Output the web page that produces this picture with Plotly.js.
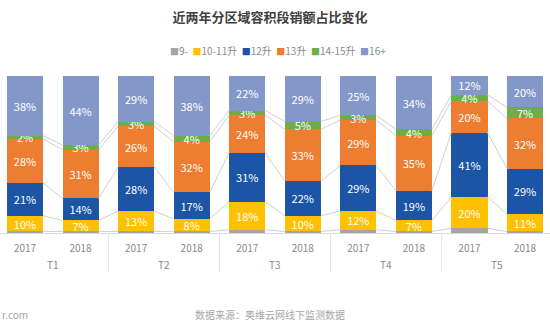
<!DOCTYPE html>
<html>
<head>
<meta charset="utf-8">
<script src="https://cdn.plot.ly/plotly-3.0.1.min.js"></script>
<style>html,body{margin:0;padding:0;background:#fff;}#chart{width:550px;height:326px;}</style>
</head>
<body>
<div id="chart"></div>
<script>
const regions = ['T1','T1','T2','T2','T3','T3','T4','T4','T5','T5'];
const years = ['2017','2018','2017','2018','2017','2018','2017','2018','2017','2018'];
const seriesNames = ['9-','10-11升','12升','13升','14-15升','16+'];
const s9 = [1,1,1,1,2,1,2,1,3,1];
const s10_11 = [10,7,13,8,18,10,12,7,20,11];
const s12 = [21,14,28,17,31,22,29,19,41,29];
const s13 = [28,31,26,32,24,33,29,35,20,32];
const s14_15 = [2,3,3,4,3,5,3,4,4,7];
const s16 = [38,44,29,38,22,29,25,34,12,20];
const seriesValues = [s9, s10_11, s12, s13, s14_15, s16];
const colors = ['#a5a5a5','#ffc000','#1c55a6','#ed7d31','#70ad47','#8497c9'];
const title = '近两年分区域容积段销额占比变化';
const source = '数据来源：奥维云网线下监测数据';

const FONT = '"Noto Sans CJK SC", "Noto Sans", sans-serif';
const halfBar = 0.325;
const idx = years.map((_, i) => i);

const traces = [];
seriesValues.forEach((vals, k) => {
  traces.push({
    type: 'bar',
    name: seriesNames[k],
    x: idx,
    y: vals,
    marker: {color: colors[k], line: {width: 0}},
    text: k === 0 ? null : vals.map(v => v + '%'),
    texttemplate: k === 0 ? null : '%{text}',
    textposition: k === 0 ? 'none' : 'inside',
    insidetextanchor: 'middle',
    constraintext: 'none',
    textfont: {color: '#ffffff', size: 11, family: FONT},
    hoverinfo: 'skip',
    showlegend: false
  });
});

// series lines connecting segment tops between adjacent bars
const cum = new Array(regions.length).fill(0);
seriesValues.forEach((vals, k) => {
  for (let i = 0; i < vals.length; i++) cum[i] += vals[i];
  if (k === seriesValues.length - 1) return;
  const lx = [], ly = [];
  for (let i = 0; i < vals.length - 1; i++) {
    lx.push(i + halfBar, i + 1 - halfBar, null);
    ly.push(cum[i], cum[i + 1], null);
  }
  traces.push({
    type: 'scatter', mode: 'lines', x: lx, y: ly,
    line: {color: '#d0d0d0', width: 1},
    hoverinfo: 'skip', showlegend: false
  });
});

// group labels and dividers derived from the region array
const annotations = [];
const shapes = [];
let start = 0;
for (let i = 1; i <= regions.length; i++) {
  if (i === regions.length || regions[i] !== regions[start]) {
    annotations.push({
      text: regions[start], xref: 'x', yref: 'paper', x: (start + i - 1) / 2, y: (233 - 264) / 157,
      xanchor: 'center', yanchor: 'middle', showarrow: false,
      font: {size: 10, color: '#8a8a8a', family: FONT}
    });
    if (i < regions.length) {
      shapes.push({
        type: 'line', xref: 'x', yref: 'paper', x0: i - 0.5, x1: i - 0.5,
        y0: 0, y1: (233 - 272) / 157, line: {color: '#e3e3e3', width: 1}
      });
    }
    start = i;
  }
}

const legendText = seriesNames.map((n, k) =>
  '<span style="color:' + colors[k] + ';font-size:9px">■</span>' + n).join('&nbsp;&nbsp;');

annotations.push(
  {text: legendText, xref: 'paper', yref: 'paper', x: 0.505, y: (233 - 50) / 157,
   xanchor: 'center', yanchor: 'middle', showarrow: false,
   font: {size: 10, color: '#8a8a8a', family: FONT}},
  {text: source, xref: 'paper', yref: 'paper', x: 0.491, y: (233 - 314) / 157,
   xanchor: 'center', yanchor: 'middle', showarrow: false,
   font: {size: 10, color: '#a6a6a6', family: FONT}},
  {text: 'r.com', xref: 'paper', yref: 'paper', x: 0, y: (233 - 314) / 157,
   xanchor: 'left', yanchor: 'middle', showarrow: false,
   font: {size: 10, color: '#a6a6a6', family: FONT}}
);

const layout = {
  width: 550, height: 326,
  margin: {l: 0, r: 0, t: 76, b: 93},
  paper_bgcolor: '#ffffff', plot_bgcolor: '#ffffff',
  barmode: 'stack', bargap: 0.35,
  font: {family: FONT, color: '#595959', size: 11},
  title: {text: '<b>' + title + '</b>', x: 0.491, xanchor: 'center', y: 0.948, yanchor: 'middle',
          font: {family: FONT, size: 13, color: '#404040'}},
  showlegend: false,
  xaxis: {
    type: 'linear', range: [-0.45, 9.45],
    tickmode: 'array', tickvals: idx, ticktext: years,
    showline: true, linecolor: '#d9d9d9', linewidth: 1,
    ticklabelstandoff: 6,
    tickfont: {size: 10, color: '#8a8a8a', family: FONT},
    ticks: '', showgrid: false, zeroline: false, fixedrange: true
  },
  yaxis: {range: [0, 100], visible: false, showgrid: false, zeroline: false, fixedrange: true},
  annotations: annotations,
  shapes: shapes
};

Plotly.newPlot('chart', traces, layout, {displayModeBar: false, staticPlot: true});
</script>
</body>
</html>
